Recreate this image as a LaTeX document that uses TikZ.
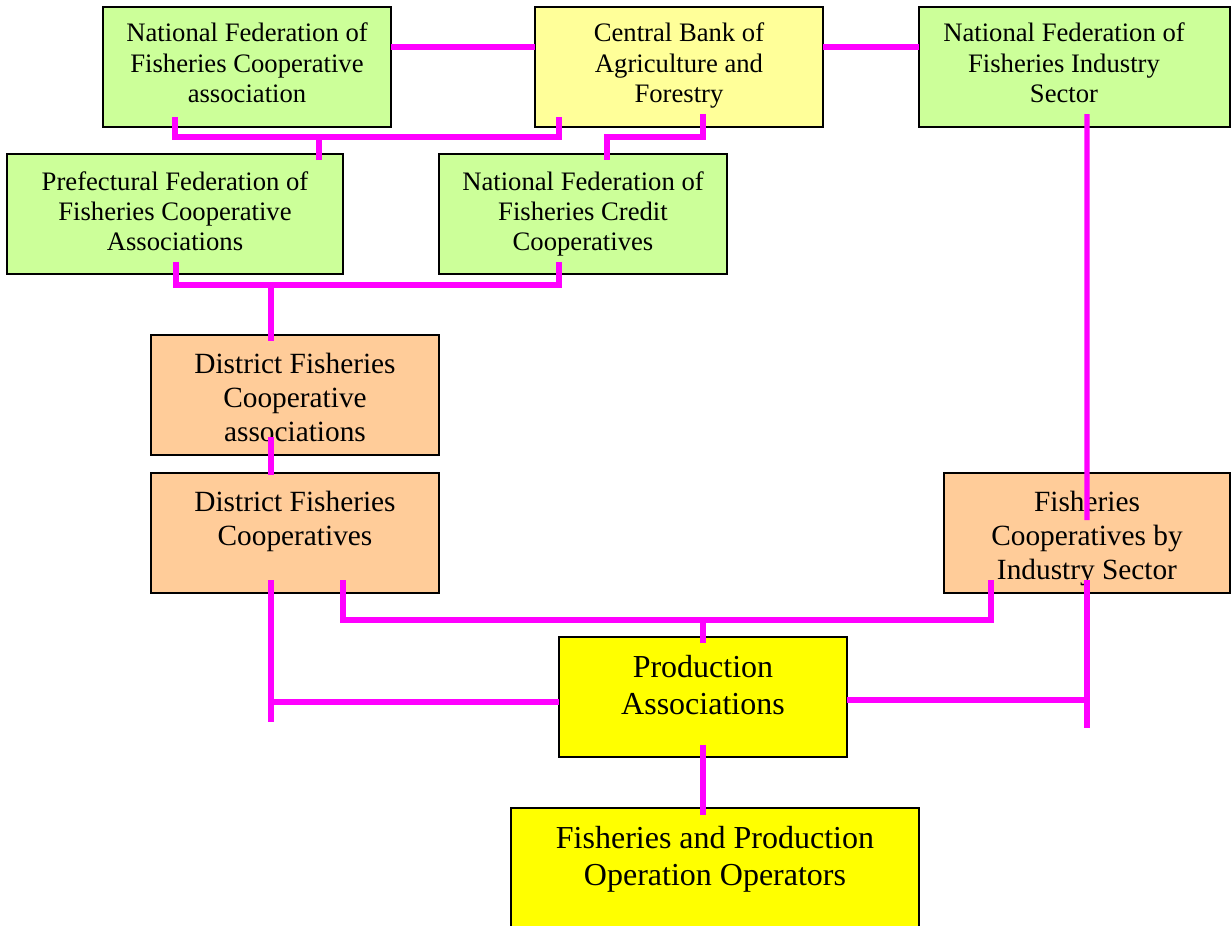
\documentclass[tikz,border=0pt]{standalone}
\usepackage{fontspec}
\setmainfont{Liberation Serif}
\usetikzlibrary{calc}

\newcommand\pxu{0.45pt}
\newcommand\boxtext[1]{\begin{tabular}[t]{@{}c@{}}#1\end{tabular}}

\definecolor{boxgreen}{HTML}{CCFF99}
\definecolor{boxcream}{HTML}{FFFF99}
\definecolor{boxpeach}{HTML}{FFCC99}
\definecolor{boxyellow}{HTML}{FFFF00}
\definecolor{linkmagenta}{HTML}{FF00FF}

\tikzset{
  orgbox/.style={rectangle, draw=black, line width=0.9pt, inner sep=0pt, outer sep=0pt,
                 minimum width=288*\pxu, minimum height=120*\pxu},
  smalltext/.style={font=\fontsize{12}{13.7}\selectfont, inner sep=0pt, anchor=base},
  midtext/.style={font=\fontsize{13.2}{15.3}\selectfont, inner sep=0pt, anchor=base},
  largetext/.style={font=\fontsize{14.4}{16.9}\selectfont, inner sep=0pt, anchor=base},
  link/.style={draw=linkmagenta, line width=2.3pt},
}

\begin{document}
\begin{tikzpicture}[x=\pxu, y=-\pxu]
  \clip (0,0) rectangle (1231,926);
  \fill[white] (0,0) rectangle (1231,926);

  % boxes
  \node[orgbox, fill=boxgreen] (nffca) at (247,67) {};
  \node[orgbox, fill=boxcream] (bank) at (679,67) {};
  \node[orgbox, fill=boxgreen, minimum width=311*\pxu] (nffis) at (1074.5,67) {};
  \node[orgbox, fill=boxgreen, minimum width=336*\pxu] (pref) at (175,214) {};
  \node[orgbox, fill=boxgreen] (credit) at (583,214) {};
  \node[orgbox, fill=boxpeach] (dfca) at (295,395) {};
  \node[orgbox, fill=boxpeach] (dfc) at (295,533) {};
  \node[orgbox, fill=boxpeach, minimum width=286*\pxu] (sector) at (1087,533) {};
  \node[orgbox, fill=boxyellow] (prod) at (703,697) {};
  \node[orgbox, fill=boxyellow, minimum width=408*\pxu] (ops) at (715,868) {};

  % labels
  \node[smalltext] (t-nffca) at (247,42) {\boxtext{National Federation of\\Fisheries Cooperative\\association}};
  \node[smalltext] (t-bank) at (679,42) {\boxtext{Central Bank of\\Agriculture and\\Forestry}};
  \node[smalltext] (t-nffis) at (1064,42) {\boxtext{National Federation of\\Fisheries Industry\\Sector}};
  \node[smalltext] (t-pref) at (175,190) {\boxtext{Prefectural Federation of\\Fisheries Cooperative\\Associations}};
  \node[smalltext] (t-credit) at (583,190) {\boxtext{National Federation of\\Fisheries Credit\\Cooperatives}};
  \node[midtext] (t-dfca) at (295,373) {\boxtext{District Fisheries\\Cooperative\\associations}};
  \node[midtext] (t-dfc) at (295,511) {\boxtext{District Fisheries\\Cooperatives}};
  \node[midtext] (t-sector) at (1087,511) {\boxtext{Fisheries\\Cooperatives by\\Industry Sector}};
  \node[largetext] (t-prod) at (703,677) {\boxtext{Production\\Associations}};
  \node[largetext] (t-ops) at (715,848) {\boxtext{Fisheries and Production\\Operation Operators}};

  % connector ports below the lower cooperatives
  \coordinate (dfc-port) at ($(dfc.south)+(-24,-13)$);
  \coordinate (sector-port) at ($(sector.south)+(0,-13)$);

  % connectors between the top row
  \draw[link] ($(nffca.east)+(0,-20)$) -- ($(bank.west)+(0,-20)$);
  \draw[link] ($(bank.east)+(0,-20)$) -- ($(nffis.west)+(0,-20)$);

  % national federation and bank to the prefectural federation
  \draw[link] ($(nffca.south)+(-72,-10)$) |- ($(bank.south)+(-120,10)$) -- ($(bank.south)+(-120,-10)$);
  \draw[link] ($(pref.north)+(144,6)$) -- ($(pref.north)+(144,-17)$);

  % bank to the credit federation
  \draw[link] ($(bank.south)+(24,-13)$) |- ($(credit.north)+(24,-17)$) -- ($(credit.north)+(24,6)$);

  % industry sector chain
  \draw[link] ($(nffis.south)+(12.5,-13)$) -- ($(sector.north)+(0,47)$);
  \draw[link] (sector-port) -- ($(sector-port)+(0,148)$);
  \draw[link] ($(prod.east)+(0,3)$) coordinate (prod-east) -- (prod-east -| sector-port);

  % prefectural and credit federations to district associations
  \draw[link] ($(pref.south)+(1,-12)$) |- ($(credit.south)+(-24,11)$) -- ($(credit.south)+(-24,-12)$);
  \draw[link] ($(dfca.north)+(-24,-50)$) -- ($(dfca.north)+(-24,6)$);
  \draw[link] ($(dfca.south)+(-24,-18)$) -- ($(dfc.north)+(-24,2)$);

  % district cooperatives to production associations
  \draw[link] (dfc-port) -- ($(dfc-port)+(0,142)$);
  \draw[link] ($(prod.west)+(0,5)$) coordinate (prod-west) -- (prod-west -| dfc-port);
  \draw[link] ($(dfc.south)+(48,-13)$) |- ($(sector.south)+(-96,27)$) -- ($(sector.south)+(-96,-13)$);
  \draw[link] ($(prod.north)+(0,-17)$) -- ($(prod.north)+(0,6)$);

  % production associations to operators
  \draw[link] ($(prod.south)+(0,-12)$) -- ($(ops.north)+(-12,7)$);
\end{tikzpicture}
\end{document}
